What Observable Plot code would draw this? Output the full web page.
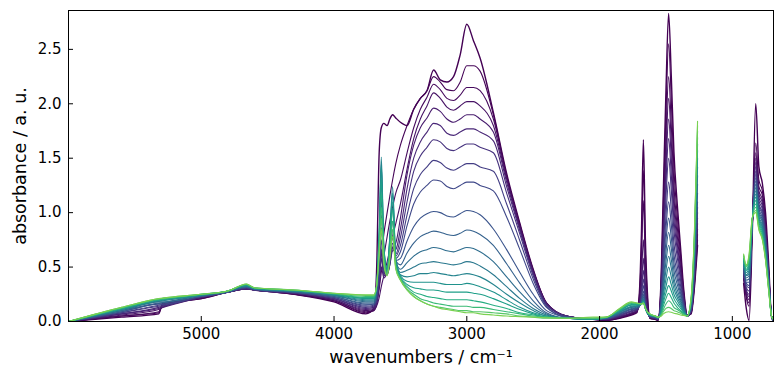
<!DOCTYPE html>
<html><head><meta charset="utf-8">
<script src="https://cdn.jsdelivr.net/npm/d3@7"></script>
<script src="https://cdn.jsdelivr.net/npm/@observablehq/plot@0.6"></script>
<style>body{margin:0;background:#fff;}</style>
</head><body><div id="chart"></div>
<script>
const xTicks = [5000, 4000, 3000, 2000, 1000];
const yTicks = [0, 0.5, 1, 1.5, 2, 2.5];

// wavenumber grids (cm-1) for the four measured ranges
const gridA = [6000, 5600, 5320, 5290, 5000, 4800, 4660, 4600, 4300, 4000, 3760];
const gridB = [3700, 3680, 3660, 3644, 3625, 3600, 3580, 3559, 3535, 3500, 3450, 3400, 3350, 3300, 3250, 3200, 3150, 3100, 3050, 3000, 2950, 2900, 2800, 2700, 2600, 2500, 2400, 2250, 2050];
const gridC = [1950, 1850, 1760, 1720, 1700, 1685, 1670, 1655, 1640, 1620, 1580, 1560, 1540, 1520, 1500, 1480, 1460, 1440, 1415, 1390, 1365, 1340, 1310, 1285, 1262];
const gridD = [915, 895, 874, 850, 824, 800, 774, 750, 725, 705, 690];

// absorbance, one row per spectrum (first = darkest)
const nearIR = [
  [0, .04, .07, .17, .21, .27, .30, .29, .25, .18, .07],
  [0, .05, .08, .16, .21, .27, .30, .29, .25, .19, .08],
  [0, .05, .09, .15, .22, .27, .30, .29, .25, .19, .09],
  [0, .06, .11, .13, .22, .27, .30, .29, .26, .20, .10],
  [0, .07, .12, .13, .22, .27, .30, .29, .26, .20, .11],
  [0, .07, .13, .14, .22, .27, .30, .29, .26, .21, .12],
  [0, .08, .14, .145, .23, .27, .31, .29, .26, .21, .13],
  [0, .08, .15, .155, .23, .27, .31, .29, .27, .22, .14],
  [0, .09, .16, .16, .23, .27, .31, .30, .27, .22, .15],
  [0, .09, .165, .17, .23, .27, .32, .30, .27, .23, .16],
  [0, .10, .17, .175, .24, .275, .32, .30, .27, .23, .17],
  [0, .10, .18, .18, .24, .275, .32, .30, .28, .24, .18],
  [0, .11, .185, .19, .24, .275, .33, .30, .28, .24, .19],
  [0, .11, .19, .195, .24, .28, .33, .30, .28, .245, .20],
  [0, .115, .195, .20, .245, .28, .33, .305, .28, .25, .21],
  [0, .12, .20, .205, .245, .28, .335, .305, .285, .25, .215],
  [0, .12, .20, .205, .25, .28, .34, .31, .285, .255, .22],
  [0, .125, .205, .21, .25, .28, .34, .31, .29, .255, .23],
  [0, .13, .21, .215, .25, .28, .345, .31, .29, .26, .24],
  [0, .13, .21, .215, .25, .28, .345, .31, .29, .26, .245]
];
const ohBand = [
  [.12, .45, 1.55, 1.78, 1.82, 1.80, 1.86, 1.90, 1.87, 1.83, 1.80, 1.95, 2.05, 2.12, 2.31, 2.22, 2.20, 2.25, 2.45, 2.73, 2.58, 2.42, 1.92, 1.36, .90, .48, .17, .05, .02],
  [.10, .20, .40, .60, .80, 1.00, 1.15, 1.30, 1.45, 1.62, 1.80, 1.95, 2.05, 2.12, 2.25, 2.20, 2.13, 2.12, 2.20, 2.35, 2.35, 2.30, 1.90, 1.34, .89, .47, .17, .05, .02],
  [.10, .15, .30, .45, .60, .78, .92, 1.05, 1.18, 1.30, 1.55, 1.78, 1.95, 2.06, 2.18, 2.13, 2.05, 2.03, 2.08, 2.15, 2.15, 2.12, 1.86, 1.33, .88, .47, .17, .05, .02],
  [.11, .14, .22, .32, .42, .55, .66, .78, .90, 1.08, 1.40, 1.68, 1.86, 1.98, 2.10, 2.05, 1.97, 1.94, 1.98, 2.02, 2.02, 1.98, 1.80, 1.31, .87, .46, .17, .05, .02],
  [.12, .16, .32, .50, .40, .45, .55, .68, .72, .95, 1.35, 1.62, 1.78, 1.87, 1.96, 1.93, 1.86, 1.83, 1.86, 1.90, 1.90, 1.86, 1.74, 1.28, .85, .45, .16, .05, .02],
  [.13, .17, .35, .58, .42, .44, .52, .65, .66, .85, 1.22, 1.50, 1.65, 1.74, 1.82, 1.80, 1.73, 1.71, 1.74, 1.77, 1.77, 1.74, 1.66, 1.24, .83, .44, .16, .05, .02],
  [.14, .18, .40, .66, .44, .43, .52, .68, .62, .77, 1.10, 1.38, 1.52, 1.60, 1.67, 1.65, 1.59, 1.57, 1.60, 1.63, 1.63, 1.60, 1.55, 1.18, .80, .42, .15, .05, .02],
  [.15, .20, .45, .75, .47, .43, .53, .72, .60, .70, .98, 1.22, 1.35, 1.42, 1.48, 1.46, 1.41, 1.39, 1.42, 1.45, 1.45, 1.42, 1.38, 1.08, .74, .39, .14, .04, .02],
  [.16, .22, .52, .86, .50, .44, .56, .78, .58, .64, .88, 1.08, 1.19, 1.25, 1.30, 1.29, 1.24, 1.22, 1.25, 1.28, 1.28, 1.25, 1.20, .96, .66, .35, .13, .04, .02],
  [.16, .24, .58, .98, .54, .45, .60, .84, .56, .58, .74, .87, .95, .99, 1.01, 1.00, .97, .96, .99, 1.02, 1.01, .98, .85, .66, .45, .25, .10, .04, .02],
  [.17, .26, .64, 1.12, .58, .46, .64, .92, .56, .52, .63, .72, .78, .81, .83, .82, .80, .79, .81, .84, .83, .80, .70, .53, .35, .19, .08, .03, .02],
  [.18, .28, .72, 1.30, .63, .47, .70, 1.04, .56, .48, .54, .60, .64, .66, .68, .67, .65, .64, .66, .68, .67, .64, .55, .41, .27, .15, .07, .03, .02],
  [.19, .30, .78, 1.45, .68, .48, .76, 1.16, .57, .45, .47, .50, .53, .54, .55, .54, .53, .52, .53, .55, .54, .51, .43, .32, .21, .12, .06, .03, .02],
  [.20, .32, .82, 1.51, .70, .48, .78, 1.24, .57, .43, .41, .42, .44, .44, .45, .44, .43, .42, .43, .44, .43, .41, .34, .25, .17, .10, .05, .03, .02],
  [.21, .32, .80, 1.42, .68, .47, .75, 1.18, .55, .42, .37, .36, .36, .36, .36, .35, .34, .34, .34, .35, .34, .32, .27, .20, .13, .08, .05, .03, .02],
  [.215, .32, .76, 1.30, .65, .46, .72, 1.10, .53, .41, .34, .31, .30, .29, .29, .28, .27, .27, .27, .27, .26, .25, .21, .16, .11, .07, .04, .03, .02],
  [.22, .32, .72, 1.18, .62, .45, .68, 1.02, .52, .40, .32, .27, .25, .23, .22, .21, .20, .20, .20, .20, .19, .18, .15, .12, .08, .06, .04, .03, .03],
  [.23, .32, .68, 1.05, .58, .44, .64, .92, .50, .39, .30, .25, .21, .19, .17, .16, .15, .14, .14, .14, .13, .13, .11, .09, .07, .05, .04, .03, .03],
  [.24, .32, .64, .95, .55, .43, .60, .85, .49, .38, .29, .23, .19, .16, .14, .13, .12, .11, .10, .10, .09, .09, .08, .07, .05, .04, .03, .03, .03],
  [.245, .32, .60, .85, .52, .42, .57, .78, .48, .38, .29, .23, .19, .16, .14, .12, .11, .10, .09, .08, .08, .07, .06, .05, .045, .04, .035, .03, .04]
];
const fingerprint = [
  [.01, .03, .06, .08, .27, .80, 1.67, .76, .27, .03, .02, .01, .29, 1.19, 2.12, 2.83, 2.26, 1.56, 1.08, .68, .28, .06, .07, .32, .70],
  [.01, .03, .07, .085, .24, .67, 1.39, .64, .23, .03, .02, .01, .26, 1.07, 1.91, 2.55, 2.04, 1.40, .97, .61, .26, .05, .08, .34, .75],
  [.015, .04, .07, .09, .21, .55, 1.11, .51, .19, .03, .02, .015, .24, .96, 1.70, 2.25, 1.81, 1.25, .87, .56, .24, .06, .08, .36, .80],
  [.015, .04, .075, .095, .17, .39, .75, .35, .14, .035, .025, .015, .22, .88, 1.55, 2.05, 1.65, 1.14, .79, .50, .22, .05, .09, .38, .85],
  [.02, .045, .08, .10, .16, .32, .58, .28, .11, .035, .025, .02, .20, .80, 1.41, 1.86, 1.50, 1.04, .72, .46, .20, .05, .09, .41, .90],
  [.02, .05, .09, .105, .15, .27, .47, .23, .10, .04, .03, .02, .19, .73, 1.28, 1.68, 1.35, .94, .66, .42, .19, .05, .10, .43, .95],
  [.022, .055, .095, .11, .14, .24, .39, .20, .09, .04, .03, .02, .17, .65, 1.14, 1.50, 1.21, .84, .59, .38, .17, .05, .10, .45, 1.00],
  [.024, .06, .10, .115, .14, .21, .33, .17, .08, .045, .035, .025, .15, .56, .97, 1.28, 1.03, .72, .51, .33, .15, .05, .11, .47, 1.05],
  [.026, .065, .11, .12, .14, .19, .28, .15, .08, .045, .035, .025, .14, .49, .85, 1.10, .89, .62, .44, .29, .14, .05, .12, .50, 1.10],
  [.028, .07, .115, .125, .14, .18, .25, .14, .08, .05, .04, .03, .12, .43, .74, .95, .77, .54, .39, .26, .13, .05, .13, .53, 1.18],
  [.03, .075, .12, .13, .14, .17, .23, .13, .075, .05, .04, .03, .11, .37, .64, .82, .67, .47, .34, .23, .12, .05, .14, .57, 1.26],
  [.032, .08, .13, .135, .145, .165, .21, .125, .075, .05, .04, .03, .10, .32, .55, .70, .57, .40, .29, .20, .11, .05, .15, .60, 1.34],
  [.034, .085, .135, .14, .145, .16, .20, .12, .075, .055, .045, .035, .09, .28, .47, .60, .49, .35, .25, .18, .10, .05, .16, .64, 1.42],
  [.035, .09, .14, .145, .15, .16, .19, .12, .075, .055, .045, .035, .08, .24, .39, .50, .41, .30, .22, .16, .09, .05, .17, .68, 1.50],
  [.036, .095, .15, .15, .155, .16, .185, .12, .08, .06, .045, .035, .07, .20, .32, .41, .34, .25, .19, .14, .085, .05, .18, .71, 1.57],
  [.037, .10, .155, .155, .16, .16, .18, .12, .08, .06, .05, .04, .065, .17, .26, .33, .28, .21, .16, .12, .08, .05, .19, .74, 1.63],
  [.038, .105, .165, .16, .16, .16, .175, .12, .085, .065, .05, .04, .06, .14, .21, .26, .22, .17, .13, .10, .07, .05, .20, .77, 1.69],
  [.039, .11, .17, .165, .165, .16, .17, .12, .085, .065, .05, .04, .055, .11, .16, .19, .17, .13, .11, .09, .065, .05, .21, .80, 1.75],
  [.04, .115, .175, .17, .165, .16, .17, .125, .09, .07, .05, .04, .05, .09, .12, .13, .12, .10, .09, .075, .06, .05, .22, .83, 1.80],
  [.04, .12, .18, .17, .165, .16, .17, .125, .09, .07, .05, .04, .045, .07, .085, .09, .085, .075, .07, .06, .055, .05, .23, .86, 1.84]
];
const lowRange = [
  [.35, .12, .01, .80, 2.00, 1.42, 1.27, 1.00, .50, .04, .00],
  [.39, .22, .14, .85, 1.64, 1.30, 1.20, .92, .45, .05, .01],
  [.40, .24, .17, .86, 1.55, 1.24, 1.16, .88, .43, .05, .01],
  [.42, .26, .20, .87, 1.50, 1.20, 1.12, .85, .42, .05, .01],
  [.43, .28, .23, .88, 1.46, 1.17, 1.09, .83, .41, .05, .01],
  [.44, .29, .25, .88, 1.42, 1.14, 1.06, .81, .40, .05, .01],
  [.46, .31, .28, .89, 1.38, 1.11, 1.03, .79, .39, .05, .01],
  [.47, .33, .31, .89, 1.35, 1.08, 1.00, .77, .38, .05, .01],
  [.48, .35, .33, .90, 1.32, 1.06, .98, .75, .37, .05, .01],
  [.49, .36, .36, .90, 1.29, 1.04, .95, .73, .36, .05, .01],
  [.51, .38, .39, .91, 1.26, 1.01, .93, .71, .35, .05, .01],
  [.52, .40, .42, .91, 1.23, .99, .91, .69, .34, .05, .01],
  [.53, .42, .44, .92, 1.20, .97, .88, .67, .33, .05, .01],
  [.55, .43, .47, .92, 1.17, .95, .86, .65, .32, .05, .02],
  [.56, .45, .50, .93, 1.14, .93, .84, .63, .31, .05, .02],
  [.57, .47, .52, .93, 1.11, .91, .82, .61, .30, .05, .02],
  [.58, .48, .55, .94, 1.08, .89, .80, .60, .29, .05, .02],
  [.60, .50, .58, .94, 1.05, .87, .78, .58, .28, .05, .02],
  [.61, .51, .60, .95, 1.02, .85, .76, .57, .27, .05, .02],
  [.62, .52, .62, .95, 1.00, .84, .75, .56, .27, .05, .02]
];

const points = [];
for (let s = 0; s < nearIR.length; s++) {
  const add = (grid, vals) => grid.forEach((w, k) => points.push({s, w, a: vals[k]}));
  add(gridA, nearIR[s]);
  add(gridB, ohBand[s]);
  add(gridC, fingerprint[s]);
  points.push({s, w: 1100, a: NaN}); // no data between the two windows
  add(gridD, lowRange[s]);
}
const n = nearIR.length;
const colorOf = s => d3.interpolateViridis(0.8 * Math.pow(s / (n - 1), 1.5));

const chart = Plot.plot({
  width: 784, height: 384,
  marginLeft: 68, marginRight: 11, marginTop: 10, marginBottom: 63,
  style: {fontFamily: "DejaVu Sans", fontSize: "15px", color: "black", background: "white"},
  x: {domain: [6000, 690]},
  y: {domain: [0, 2.857]},
  color: {type: "identity"},
  marks: [
    Plot.line(points, {x: "w", y: "a", z: "s", stroke: d => colorOf(d.s), strokeWidth: d => d.s === 0 ? 1.4 : 1.1, curve: "monotone-x", clip: true}),
    Plot.frame({stroke: "black", strokeWidth: 1}),
    Plot.tickX(xTicks, {x: d => d, insetTop: 306, stroke: "black"}),
    Plot.tickY(yTicks, {y: d => d, insetRight: 700, stroke: "black"}),
    Plot.axisX({ticks: xTicks, tickSize: 0, tickPadding: 7, tickFormat: d => String(d), label: null, fontSize: 15}),
    Plot.axisY({ticks: yTicks, tickSize: 0, tickPadding: 7, tickFormat: d3.format(".1f"), label: null, fontSize: 15}),
    Plot.text(["wavenumbers / cm\u207B\u00B9"], {text: d => d, frameAnchor: "bottom", dy: 41, fill: "black", fontSize: 17.5}),
    Plot.text(["absorbance / a. u."], {text: d => d, frameAnchor: "left", dx: -48, rotate: -90, textAnchor: "middle", fill: "black", fontSize: 17.5})
  ]
});
document.getElementById("chart").appendChild(chart);
</script>
</body></html>
